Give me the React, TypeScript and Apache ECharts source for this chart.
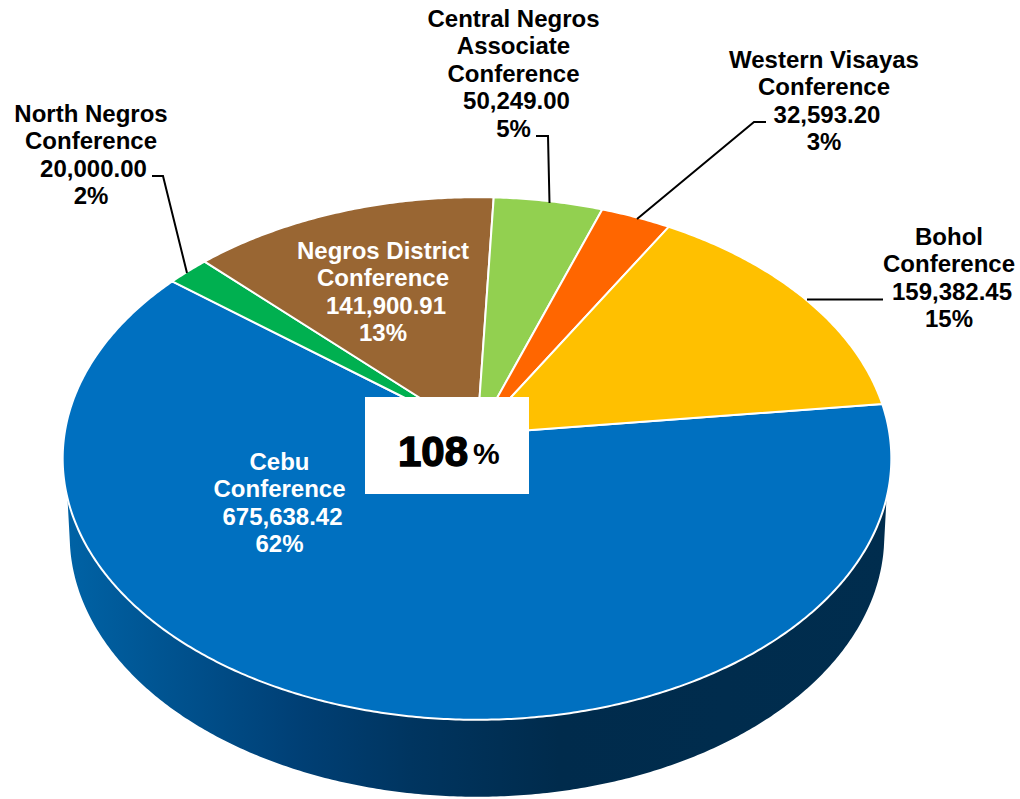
import React, { useEffect, useRef } from "react";
import * as echarts from "echarts";

const categories = [
  "Cebu Conference",
  "North Negros Conference",
  "Negros District Conference",
  "Central Negros Associate Conference",
  "Western Visayas Conference",
  "Bohol Conference",
];
const values = [675638.42, 20000.0, 141900.91, 50249.0, 32593.2, 159382.45];
const valueLabels = ["675,638.42", "20,000.00", "141,900.91", "50,249.00", "32,593.20", "159,382.45"];
const percentLabels = ["62%", "2%", "13%", "5%", "3%", "15%"];
const nameLines = [
  ["Cebu", "Conference"],
  ["North Negros", "Conference"],
  ["Negros District", "Conference"],
  ["Central Negros", "Associate", "Conference"],
  ["Western Visayas", "Conference"],
  ["Bohol", "Conference"],
];
const colors = ["#0070C0", "#00B050", "#996633", "#92D050", "#FF6600", "#FFC000"];
const labelColors = ["#ffffff", "#000000", "#ffffff", "#000000", "#000000", "#000000"];
const totalLabel = "108";
const totalUnit = "%";

// label layout: centre x, first line y, x nudge of the value line
const labelPos = [
  [279.5, 461, 3],
  [91, 113, 2.5],
  [383, 250, 3],
  [513.5, 18, 3],
  [824, 59, 3],
  [949, 236, 3],
];
const leaders = [
  [[152, 176], [163, 176], [187, 273]],
  [[536, 136], [548, 136], [549.5, 203]],
  [[766, 122], [754, 122], [637, 219]],
  [[883, 299.5], [807, 299.5]],
];

// view of the tilted disc
const CX = 477;
const CY = 434;
const A = 412.5;
const B = 259;
const P = 0.0937;
const WALL_A = 405.5;
const WALL_D = 77;
const START = 83.3;
const LINE_H = 27.6;

const total = values.reduce((s, v) => s + v, 0);

function rim(deg: number, a = A, dy = 0): number[] {
  const t = (deg * Math.PI) / 180;
  const u = Math.sin(t);
  const v = Math.cos(t);
  const w = 1 + P * v;
  return [CX + (a * u) / w, CY - (B * v) / w + dy];
}

function arcPoints(from: number, to: number, a = A, dy = 0): number[][] {
  const n = Math.max(2, Math.ceil(Math.abs(to - from) * 2));
  const pts: number[][] = [];
  for (let i = 0; i <= n; i++) pts.push(rim(from + ((to - from) * i) / n, a, dy));
  return pts;
}

function renderSlice(params: any, api: any) {
  const i = params.dataIndex;
  let before = 0;
  for (let k = 0; k < i; k++) before += values[k];
  const from = START + (before / total) * 360;
  const to = from + (api.value(0) / total) * 360;
  return {
    type: "polygon",
    shape: { points: [[CX, CY], ...arcPoints(from, to)] },
    style: { fill: colors[i], stroke: "#ffffff", lineWidth: 2, lineJoin: "round" },
    silent: true,
  };
}

function renderWall() {
  const pts = [...arcPoints(104, 256), ...arcPoints(262, 98, WALL_A, WALL_D)];
  return {
    type: "polygon",
    shape: { points: pts },
    style: {
      fill: {
        type: "linear",
        x: 63,
        y: 0,
        x2: 890,
        y2: 0,
        global: true,
        colorStops: [
          { offset: 0, color: "#0063A6" },
          { offset: 0.28, color: "#004076" },
          { offset: 0.42, color: "#003560" },
          { offset: 0.6, color: "#002B4C" },
          { offset: 1, color: "#002D4E" },
        ],
      },
    },
    silent: true,
  };
}

function textEl(text: string, x: number, y: number, fill: string) {
  return {
    type: "text",
    x,
    y,
    silent: true,
    style: {
      text,
      fill,
      font: 'bold 24px "Liberation Sans", Arial, sans-serif',
      align: "center",
      verticalAlign: "middle",
    },
  };
}

function labelElements() {
  const out: any[] = [];
  categories.forEach((_, i) => {
    const [x, y0, nudge] = labelPos[i];
    const names = nameLines[i];
    names.forEach((line, k) => out.push(textEl(line, x, y0 + k * LINE_H, labelColors[i])));
    out.push(textEl(valueLabels[i], x + nudge, y0 + names.length * LINE_H, labelColors[i]));
    out.push(textEl(percentLabels[i], x, y0 + (names.length + 1) * LINE_H, labelColors[i]));
  });
  return out;
}

export default function App() {
  const ref = useRef<HTMLDivElement>(null);
  useEffect(() => {
    document.body.style.margin = "0";
    const chart = echarts.init(ref.current!, undefined, { renderer: "svg" });
    chart.setOption({
      animation: false,
      backgroundColor: "#ffffff",
      series: [
        { type: "custom", coordinateSystem: "none", renderItem: renderWall, data: [total], z: 1, silent: true },
        {
          type: "custom",
          coordinateSystem: "none",
          renderItem: renderSlice,
          data: values.map((v, i) => ({ name: categories[i], value: v })),
          z: 2,
          silent: true,
        },
      ],
      graphic: [
        ...leaders.map((points) => ({
          type: "polyline",
          z: 10,
          silent: true,
          shape: { points },
          style: { stroke: "#000000", lineWidth: 2, fill: "none" },
        })),
        {
          type: "rect",
          z: 10,
          silent: true,
          shape: { x: 365, y: 397, width: 164, height: 97 },
          style: { fill: "#ffffff" },
        },
        {
          type: "text",
          z: 11,
          silent: true,
          x: 398,
          y: 451,
          style: {
            text: totalLabel,
            fill: "#000000",
            stroke: "#000000",
            lineWidth: 1.4,
            font: 'bold 42px "Liberation Sans", Arial, sans-serif',
            align: "left",
            verticalAlign: "middle",
          },
        },
        {
          type: "text",
          z: 11,
          silent: true,
          x: 473,
          y: 453,
          style: {
            text: totalUnit,
            fill: "#000000",
            font: 'bold 30px "Liberation Sans", Arial, sans-serif',
            align: "left",
            verticalAlign: "middle",
          },
        },
        ...labelElements().map((e) => ({ ...e, z: 11 })),
      ],
    });
    return () => chart.dispose();
  }, []);
  return <div ref={ref} style={{ position: "fixed", left: 0, top: 0, width: 1020, height: 799 }} />;
}
